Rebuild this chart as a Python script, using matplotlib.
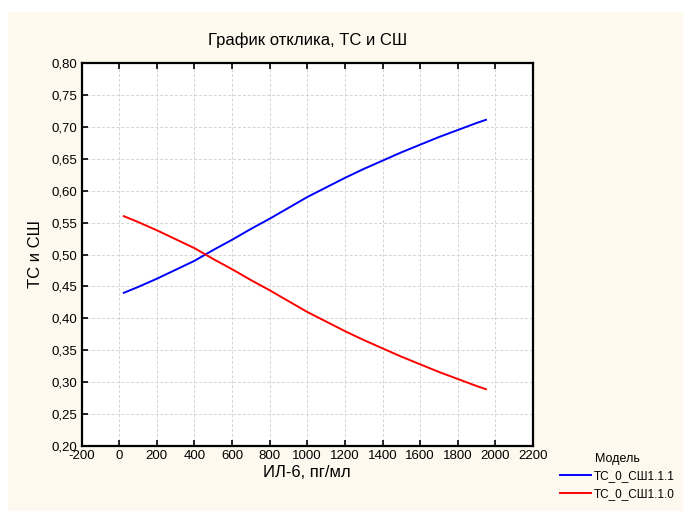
import numpy as np
import matplotlib
matplotlib.use("Agg")
import matplotlib.pyplot as plt
from matplotlib.patches import Rectangle

plt.rcParams['font.family'] = ['Liberation Sans', 'DejaVu Sans']

# values
il6 = [25, 100, 200, 300, 400, 500, 600, 700, 800, 900, 1000,
       1100, 1200, 1300, 1400, 1500, 1600, 1700, 1800, 1900, 1950]
ts_sh_1 = [0.440, 0.449, 0.462, 0.476, 0.490, 0.507, 0.523, 0.540, 0.556, 0.573, 0.590,
           0.605, 0.620, 0.634, 0.647, 0.660, 0.672, 0.684, 0.695, 0.706, 0.711]
ts_sh_0 = [0.560, 0.551, 0.538, 0.524, 0.510, 0.493, 0.477, 0.460, 0.444, 0.427, 0.410,
           0.395, 0.380, 0.366, 0.353, 0.340, 0.328, 0.316, 0.305, 0.294, 0.289]

x_ticks = [-200, 0, 200, 400, 600, 800, 1000, 1200, 1400, 1600, 1800, 2000, 2200]
y_ticks = [0.20, 0.25, 0.30, 0.35, 0.40, 0.45, 0.50, 0.55, 0.60, 0.65, 0.70, 0.75, 0.80]
y_labels = ['%.2f' % v for v in y_ticks]
y_labels = [s.replace('.', ',') for s in y_labels]

bg = '#fdf9ee'
fig = plt.figure(figsize=(6.83, 5.11), dpi=100, facecolor=bg)
# white strips at the top and left edge
fig.patches.append(Rectangle((0, 1 - 12/511), 1, 12/511, transform=fig.transFigure,
                             facecolor='white', edgecolor='none', zorder=-1))
fig.patches.append(Rectangle((0, 0), 8/683, 1, transform=fig.transFigure,
                             facecolor='white', edgecolor='none', zorder=-1))

ax = fig.add_axes([81.5/683, 1 - 446/511, (533 - 81.5)/683, (446 - 63)/511])
ax.set_facecolor('white')

l1, = ax.plot(il6, ts_sh_1, color='#0000ff', lw=1.4, label='ТС_0_СШ1.1.1')
l0, = ax.plot(il6, ts_sh_0, color='#ff0000', lw=1.4, label='ТС_0_СШ1.1.0')

ax.set_xlim(-200, 2200)
ax.set_ylim(0.20, 0.80)
ax.set_xticks(x_ticks)
ax.set_xticklabels([str(v) for v in x_ticks])
ax.set_yticks(y_ticks)
ax.set_yticklabels(y_labels)
ax.grid(True, color='#d4d4d4', ls=(0, (3, 2)), lw=0.7)
ax.tick_params(direction='in', length=4, width=1.2, top=True, right=False,
               labelsize=9.5, pad=3)
for s in ax.spines.values():
    s.set_linewidth(1.6)
    s.set_color('black')

ax.set_title('График отклика, ТС и СШ', fontsize=12, pad=13)
ax.set_xlabel('ИЛ-6, пг/мл', fontsize=12, labelpad=2)
ax.set_ylabel('ТС и СШ', fontsize=12, labelpad=6)

fig.legend(handles=[l1, l0], title='Модель', loc='upper left',
           bbox_to_anchor=(552/683, 1 - 445/511), frameon=False,
           fontsize=8.5, title_fontsize=9, handlelength=2.6, handletextpad=0.2,
           labelspacing=0.45, borderpad=0.2)

fig.savefig('out.png', dpi=100, facecolor=bg)
